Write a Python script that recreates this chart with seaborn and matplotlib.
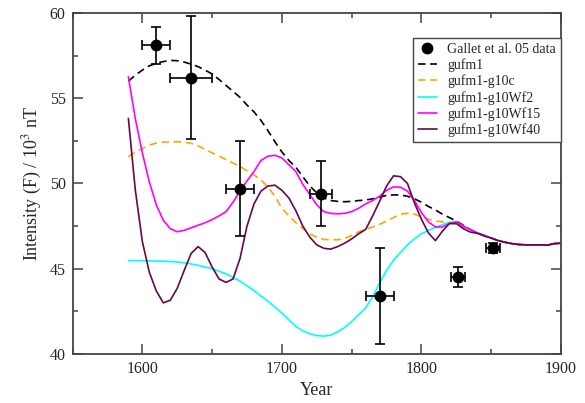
import numpy as np
import pandas as pd
import matplotlib
matplotlib.use("Agg")
import matplotlib.pyplot as plt
from matplotlib.lines import Line2D
import seaborn as sns

# ---------------- data ----------------
years = list(range(1590, 1901, 5))

gufm1 = [56.0, 56.35, 56.65, 56.9, 57.05, 57.15, 57.22, 57.2, 57.12, 57.0,
         56.85, 56.65, 56.42, 56.1, 55.75, 55.4, 55.05, 54.6, 54.2, 53.7,
         53.1, 52.45, 51.85, 51.35, 50.95, 50.4, 49.85, 49.45, 49.15, 49.0,
         48.95, 48.93, 48.95, 49.0, 49.03, 49.1, 49.2, 49.3, 49.33, 49.33,
         49.25, 49.1, 48.9, 48.65, 48.45, 48.2, 48.0, 47.8, 47.55, 47.3,
         47.1, 46.95, 46.8, 46.65, 46.55, 46.47, 46.42, 46.4, 46.4, 46.4,
         46.38, 46.47, 46.5]

g10c = [51.57, 51.85, 52.05, 52.25, 52.37, 52.42, 52.44, 52.45, 52.42, 52.36,
        52.2, 52.0, 51.8, 51.6, 51.4, 51.2, 51.0, 50.75, 50.5, 50.2,
        49.8, 49.25, 48.55, 48.1, 47.7, 47.35, 47.05, 46.85, 46.72, 46.7,
        46.7, 46.78, 46.95, 47.17, 47.3, 47.45, 47.6, 47.8, 48.0, 48.2,
        48.25, 48.2, 48.05, 47.9, 47.8, 47.75, 47.7, 47.6, 47.45, 47.3,
        47.1, 46.95, 46.8, 46.65, 46.55, 46.47, 46.42, 46.4, 46.4, 46.4,
        46.38, 46.47, 46.5]

g10Wf2 = [45.48, 45.48, 45.47, 45.46, 45.45, 45.44, 45.42, 45.4, 45.35, 45.28,
          45.2, 45.1, 45.0, 44.85, 44.7, 44.5, 44.27, 44.0, 43.72, 43.4,
          43.1, 42.75, 42.4, 42.0, 41.62, 41.35, 41.18, 41.08, 41.05, 41.1,
          41.3, 41.55, 41.9, 42.3, 42.7, 43.35, 44.15, 44.9, 45.5, 45.95,
          46.4, 46.75, 47.05, 47.25, 47.42, 47.58, 47.72, 47.75, 47.5, 47.3,
          47.1, 46.95, 46.8, 46.65, 46.55, 46.47, 46.42, 46.4, 46.4, 46.4,
          46.38, 46.47, 46.5]

g10Wf15 = [56.26, 53.8, 51.8, 50.1, 48.75, 47.85, 47.35, 47.17, 47.25, 47.4,
           47.55, 47.7, 47.88, 48.1, 48.35, 48.9, 49.55, 50.15, 50.7, 51.35,
           51.6, 51.65, 51.5, 51.1, 50.7, 49.95, 49.35, 48.75, 48.35, 48.25,
           48.22, 48.25, 48.35, 48.55, 48.8, 49.0, 49.25, 49.6, 49.8, 49.78,
           49.55, 49.0, 48.3, 47.75, 47.45, 47.45, 47.65, 47.75, 47.5, 47.3,
           47.1, 46.95, 46.8, 46.65, 46.55, 46.47, 46.42, 46.4, 46.4, 46.4,
           46.38, 46.47, 46.5]

g10Wf40 = [53.82, 49.6, 46.6, 44.8, 43.7, 43.0, 43.15, 43.85, 44.9, 45.9,
           46.3, 45.95, 45.1, 44.4, 44.2, 44.4, 45.6, 47.5, 48.8, 49.55,
           49.85, 49.9, 49.6, 49.15, 48.4, 47.5, 46.85, 46.4, 46.2, 46.15,
           46.3, 46.5, 46.75, 47.05, 47.3, 48.1, 48.95, 49.85, 50.45, 50.4,
           50.0, 48.85, 47.9, 47.1, 46.65, 47.2, 47.65, 47.65, 47.35, 47.15,
           47.08, 46.92, 46.8, 46.65, 46.55, 46.47, 46.42, 46.4, 46.4, 46.4,
           46.38, 46.47, 46.5]

data_year = [1610, 1635, 1670, 1728, 1770, 1826, 1851]
data_F = [58.1, 56.2, 49.7, 49.4, 43.4, 44.5, 46.2]
data_Ferr = [1.1, 3.6, 2.8, 1.9, 2.8, 0.6, 0.3]
data_yerr = [10, 15, 10, 8, 10, 5, 5]

series_names = ["gufm1", "gufm1-g10c", "gufm1-g10Wf2", "gufm1-g10Wf15", "gufm1-g10Wf40"]
series_vals = [gufm1, g10c, g10Wf2, g10Wf15, g10Wf40]
colors = {"gufm1": "#000000", "gufm1-g10c": "#FFA500", "gufm1-g10Wf2": "#00FFFF",
          "gufm1-g10Wf15": "#FF00FF", "gufm1-g10Wf40": "#670748"}
dash_map = {"gufm1": (4.5, 2.8), "gufm1-g10c": (4.5, 2.8), "gufm1-g10Wf2": "",
            "gufm1-g10Wf15": "", "gufm1-g10Wf40": ""}

df = pd.DataFrame({
    "Year": np.tile(years, len(series_names)),
    "F": np.concatenate(series_vals),
    "model": np.repeat(series_names, len(years)),
})

# ---------------- plot ----------------
sns.set_theme(style="ticks")
plt.rcParams["font.family"] = ["Liberation Serif", "DejaVu Serif"]
plt.rcParams["mathtext.fontset"] = "stix"

fig = plt.figure(figsize=(5.85, 4.03), dpi=100)
ax = fig.add_axes([0.124, 0.1216, 0.835, 0.8462])

sns.lineplot(data=df, x="Year", y="F", hue="model", style="model",
             palette=colors, dashes=dash_map, linewidth=1.2, ax=ax,
             legend=False, sort=False, estimator=None)

ax.errorbar(data_year, data_F, yerr=data_Ferr, xerr=data_yerr, fmt="o",
            color="black", ms=7.5, elinewidth=1.2, capsize=3.5, capthick=1.2,
            zorder=5)

ax.set_xlim(1550, 1900)
ax.set_ylim(40, 60)
ax.set_xticks([1600, 1700, 1800, 1900])
ax.set_xticks([1550, 1650, 1750, 1850], minor=True)
ax.set_yticks([40, 45, 50, 55, 60])
ax.set_yticks([42.5, 47.5, 52.5, 57.5], minor=True)
spine_c = "#444444"
ax.tick_params(which="both", direction="in", top=True, right=True,
               color=spine_c, labelsize=11.5, pad=5)
ax.tick_params(which="major", length=7, width=1.1)
ax.tick_params(which="minor", length=3.5, width=1.1)
for s in ax.spines.values():
    s.set_color(spine_c)
    s.set_linewidth(1.3)

ax.set_xlabel("Year", fontsize=13, labelpad=4)
ax.set_ylabel(r"Intensity (F) / 10$^3$ nT", fontsize=13, labelpad=4)

handles = [Line2D([], [], marker="o", color="black", ls="none", ms=7.5)]
for n in series_names:
    d = dash_map[n]
    if d:
        h = Line2D([], [], color=colors[n], lw=1.2, dashes=d)
    else:
        h = Line2D([], [], color=colors[n], lw=1.2)
    handles.append(h)
labels = ["Gallet et al. 05 data"] + series_names
leg = ax.legend(handles, labels, loc="upper right", bbox_to_anchor=(1.0, 0.927),
                borderaxespad=0, fontsize=10, frameon=True, fancybox=False,
                handlelength=1.4, handletextpad=0.75, labelspacing=0.18,
                borderpad=0.35, framealpha=1)
leg.get_frame().set_edgecolor(spine_c)
leg.get_frame().set_linewidth(1.0)

fig.savefig("out.png", dpi=100)
